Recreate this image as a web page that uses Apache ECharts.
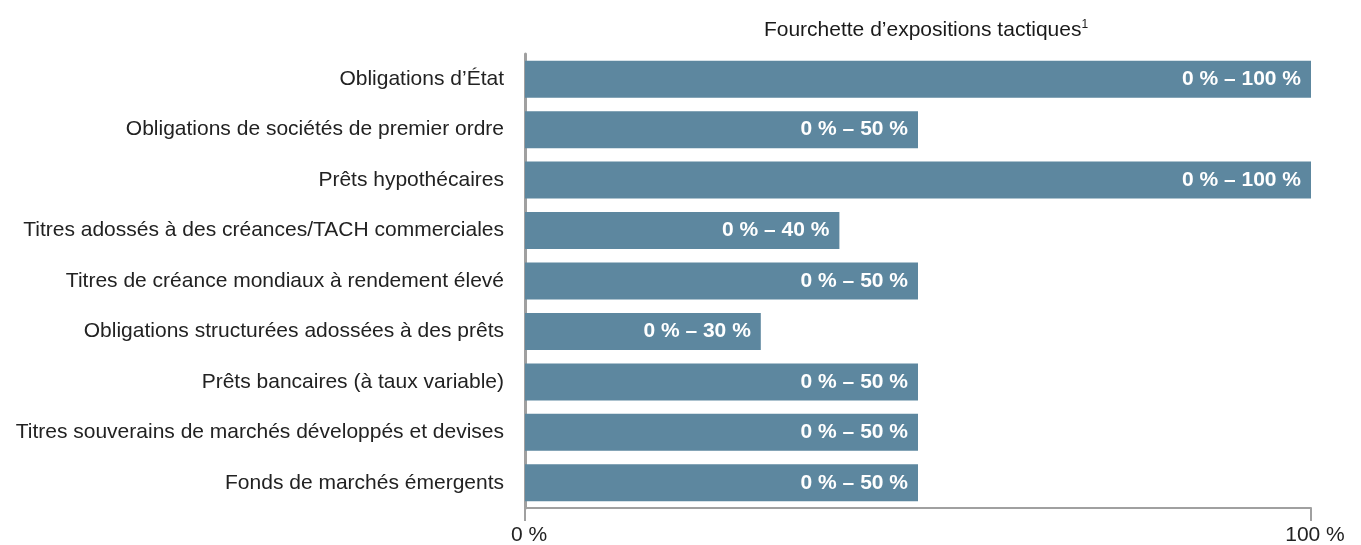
<!DOCTYPE html>
<html>
<head>
<meta charset="utf-8">
<script src="https://cdn.jsdelivr.net/npm/echarts@6/dist/echarts.min.js"></script>
<style>
  html, body { margin: 0; padding: 0; background: #fff; }
  #chart { width: 1361px; height: 545px; }
</style>
</head>
<body>
<div id="chart"></div>
<script>
  // categories, top to bottom
  var categories = [
    "Obligations d’État",
    "Obligations de sociétés de premier ordre",
    "Prêts hypothécaires",
    "Titres adossés à des créances/TACH commerciales",
    "Titres de créance mondiaux à rendement élevé",
    "Obligations structurées adossées à des prêts",
    "Prêts bancaires (à taux variable)",
    "Titres souverains de marchés développés et devises",
    "Fonds de marchés émergents"
  ];
  var rangeMin = [0, 0, 0, 0, 0, 0, 0, 0, 0];
  var rangeMax = [100, 50, 100, 40, 50, 30, 50, 50, 50];
  var xTickLabels = { 0: "0 %", 100: "100 %" };

  var font = "Liberation Sans";
  var chart = echarts.init(document.getElementById("chart"));

  chart.setOption({
    animation: false,
    title: {
      text: "Fourchette d’expositions tactiques{sup|1}",
      left: 921,
      top: 14,
      textAlign: "center",
      textStyle: {
        fontFamily: font,
        fontSize: 21,
        fontWeight: "normal",
        color: "#1a1a1a",
        rich: {
          sup: { fontFamily: font, fontSize: 12, color: "#1a1a1a", verticalAlign: "top", padding: [0, 0, 10, 0] }
        }
      }
    },
    grid: { left: 525, right: 50, top: 54, bottom: 37, outerBoundsMode: "none" },
    xAxis: {
      type: "value",
      min: 0,
      max: 100,
      interval: 100,
      axisLine: { show: true, lineStyle: { color: "#a0a0a0", width: 2 } },
      axisTick: { show: true, length: 13, lineStyle: { color: "#a0a0a0", width: 2 } },
      splitLine: { show: false },
      axisLabel: {
        margin: 17,
        fontFamily: font,
        fontSize: 21,
        color: "#222",
        padding: [0, 0, 0, 8],
        formatter: function (v) { return xTickLabels[v] || ""; }
      }
    },
    yAxis: {
      type: "category",
      inverse: true,
      data: categories,
      axisLine: { show: true, lineStyle: { color: "#a0a0a0", width: 3 } },
      axisTick: { show: false },
      axisLabel: { margin: 21, fontFamily: font, fontSize: 21, color: "#222", padding: [0, 0, 4, 0] }
    },
    series: [
      {
        type: "bar",
        data: rangeMax,
        barWidth: 37,
        itemStyle: { color: "#5d879f" },
        label: {
          show: true,
          position: "insideRight",
          distance: 10,
          fontFamily: font,
          fontSize: 21,
          fontWeight: "bold",
          color: "#fff",
          formatter: function (p) {
            return rangeMin[p.dataIndex] + " % – " + p.value + " %";
          }
        }
      }
    ]
  });
</script>
</body>
</html>
